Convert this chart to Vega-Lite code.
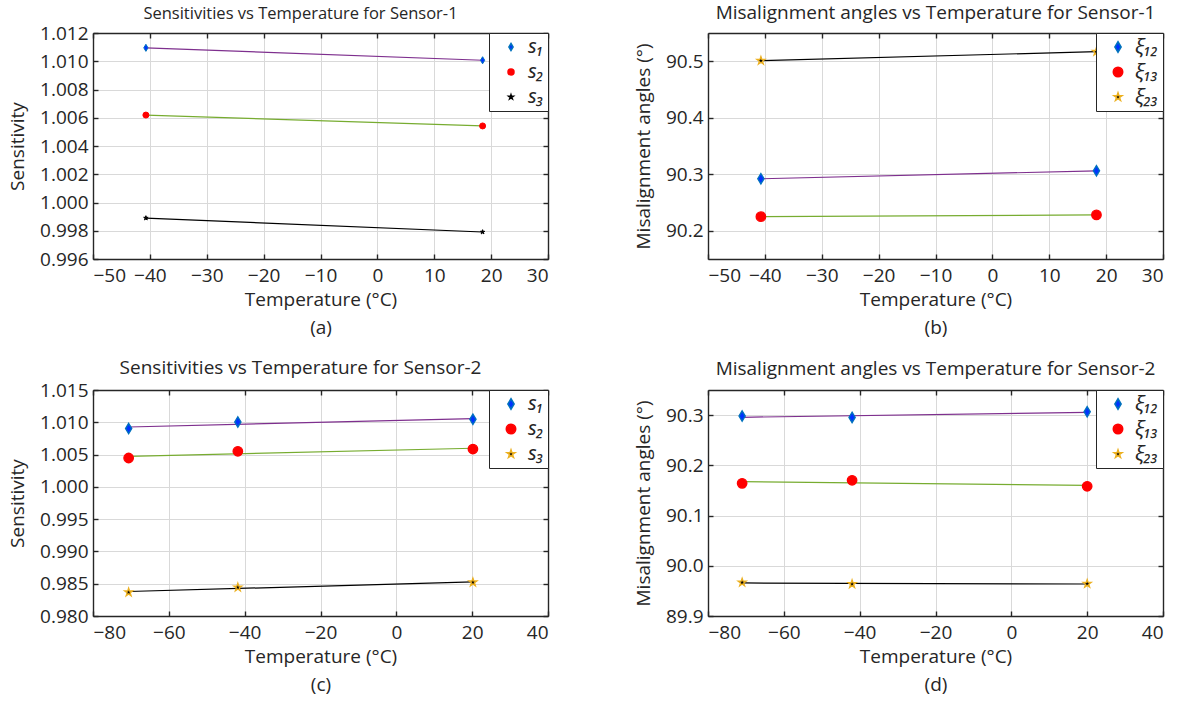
{
  "$schema": "https://vega.github.io/schema/vega-lite/v6.json",
  "padding": {"left": 8, "top": 4, "right": 5, "bottom": 5},
  "background": "white",
  "config": {
    "font": "Open Sans",
    "view": {"stroke": null},
    "axis": {
      "labelFont": "Open Sans", "labelFontSize": 19, "labelColor": "#262626",
      "titleFont": "Open Sans", "titleFontSize": 19, "titleFontWeight": "normal", "titleColor": "#262626",
      "domainColor": "#262626", "domainWidth": 1.4,
      "tickColor": "#262626", "tickWidth": 1.4, "tickSize": -5,
      "gridColor": "#d9d9d9", "gridWidth": 1
    },
    "axisX": {"labelPadding": 12, "titlePadding": 5, "titleLineHeight": 28},
    "axisY": {"labelPadding": 10, "titlePadding": 12},
    "title": {"font": "Open Sans", "fontSize": 19, "fontWeight": "normal", "color": "#262626"},
    "legend": {
      "orient": "top-right", "offset": 0, "title": null,
      "strokeColor": "#262626", "fillColor": "white", "padding": 4,
      "labelFont": "Noto Sans", "labelFontSize": 20, "labelFontStyle": "italic", "labelColor": "#262626",
      "rowPadding": 5, "symbolOffset": 8, "labelOffset": 7
    }
  },
  "datasets": {
    "a": [
      {"t": -40.7, "v": 1.01095, "s": "s₁"}, {"t": 18.5, "v": 1.01007, "s": "s₁"},
      {"t": -40.7, "v": 1.00619, "s": "s₂"}, {"t": 18.5, "v": 1.00542, "s": "s₂"},
      {"t": -40.7, "v": 0.99890, "s": "s₃"}, {"t": 18.5, "v": 0.99791, "s": "s₃"}
    ],
    "b": [
      {"t": -40.7, "v": 90.292, "s": "ξ₁₂"}, {"t": 18.3, "v": 90.306, "s": "ξ₁₂"},
      {"t": -40.7, "v": 90.225, "s": "ξ₁₃"}, {"t": 18.3, "v": 90.228, "s": "ξ₁₃"},
      {"t": -40.7, "v": 90.501, "s": "ξ₂₃"}, {"t": 18.3, "v": 90.517, "s": "ξ₂₃"}
    ],
    "c": [
      {"t": -70.6, "v": 1.00902, "s": "s₁"}, {"t": -41.8, "v": 1.01005, "s": "s₁"}, {"t": 20.2, "v": 1.01046, "s": "s₁"},
      {"t": -70.6, "v": 1.00447, "s": "s₂"}, {"t": -41.8, "v": 1.00551, "s": "s₂"}, {"t": 20.2, "v": 1.00586, "s": "s₂"},
      {"t": -70.6, "v": 0.98367, "s": "s₃"}, {"t": -41.8, "v": 0.98444, "s": "s₃"}, {"t": 20.2, "v": 0.98522, "s": "s₃"}
    ],
    "d": [
      {"t": -71.0, "v": 90.2980, "s": "ξ₁₂"}, {"t": -42.0, "v": 90.2954, "s": "ξ₁₂"}, {"t": 20.0, "v": 90.3066, "s": "ξ₁₂"},
      {"t": -71.0, "v": 90.1642, "s": "ξ₁₃"}, {"t": -42.0, "v": 90.1702, "s": "ξ₁₃"}, {"t": 20.0, "v": 90.1583, "s": "ξ₁₃"},
      {"t": -71.0, "v": 89.9668, "s": "ξ₂₃"}, {"t": -42.0, "v": 89.9636, "s": "ξ₂₃"}, {"t": 20.0, "v": 89.9642, "s": "ξ₂₃"}
    ]
  },
  "columns": 2,
  "spacing": {"row": 131, "column": 160},
  "bounds": "flush",
  "concat": [
    {
      "width": 455, "height": 226,
      "title": {"text": "Sensitivities vs Temperature for Sensor-1", "offset": 2, "fontSize": 16.5, "dx": -20},
      "data": {"name": "a"},
      "layer": [
        {
          "transform": [{"filter": {"field": "s", "equal": "s₁"}}, {"regression": "v", "on": "t"}],
          "mark": {"type": "line", "strokeWidth": 1.2, "color": "#7E2F8E"},
          "encoding": {
            "x": {"field": "t", "type": "quantitative", "scale": {"domain": [-50, 30], "nice": false, "zero": false},
                  "axis": {"orient": "bottom", "values": [-50, -40, -30, -20, -10, 0, 10, 20, 30], "grid": true, "title": ["Temperature (°C)", "(a)"]}},
            "y": {"field": "v", "type": "quantitative", "scale": {"domain": [0.996, 1.012], "nice": false, "zero": false},
                  "axis": {"orient": "left", "values": [0.996, 0.998, 1.0, 1.002, 1.004, 1.006, 1.008, 1.01, 1.012], "format": ".3f", "grid": true, "title": "Sensitivity"}}
          }
        },
        {
          "transform": [{"filter": {"field": "s", "equal": "s₂"}}, {"regression": "v", "on": "t"}],
          "mark": {"type": "line", "strokeWidth": 1.2, "color": "#77AC30"},
          "encoding": {"x": {"field": "t", "type": "quantitative", "axis": null}, "y": {"field": "v", "type": "quantitative", "axis": null}}
        },
        {
          "transform": [{"filter": {"field": "s", "equal": "s₃"}}, {"regression": "v", "on": "t"}],
          "mark": {"type": "line", "strokeWidth": 1.2, "color": "#000000"},
          "encoding": {"x": {"field": "t", "type": "quantitative", "axis": null}, "y": {"field": "v", "type": "quantitative", "axis": null}}
        },
        {
          "mark": {"type": "point", "filled": true, "opacity": 1, "strokeWidth": 1},
          "encoding": {
            "x": {"field": "t", "type": "quantitative", "axis": {"orient": "top", "values": [-50, -40, -30, -20, -10, 0, 10, 20, 30], "labels": false, "grid": false, "title": null}},
            "y": {"field": "v", "type": "quantitative", "axis": {"orient": "right", "values": [0.996, 0.998, 1.0, 1.002, 1.004, 1.006, 1.008, 1.01, 1.012], "labels": false, "grid": false, "title": null}},
            "fill": {"field": "s", "type": "nominal", "scale": {"domain": ["s₁", "s₂", "s₃"], "range": ["#0033ff", "#ff0000", "#000000"]}},
            "stroke": {"field": "s", "type": "nominal", "scale": {"domain": ["s₁", "s₂", "s₃"], "range": ["#0072BD", "#ff0000", "#000000"]}},
            "shape": {"field": "s", "type": "nominal", "scale": {"domain": ["s₁", "s₂", "s₃"], "range": ["M0,-1L0.6,0L0,1L-0.6,0Z", "circle", "M0,-1L0.2245,-0.309L0.951,-0.309L0.363,0.118L0.588,0.809L0,0.382L-0.588,0.809L-0.363,0.118L-0.951,-0.309L-0.2245,-0.309Z"]}},
            "size": {"field": "s", "type": "nominal", "scale": {"domain": ["s₁", "s₂", "s₃"], "range": [50, 22, 75]}}
          }
        }
      ],
      "resolve": {"axis": {"x": "independent", "y": "independent"}}
    },
    {
      "width": 455, "height": 226,
      "title": {"text": "Misalignment angles vs Temperature for Sensor-1", "offset": 9},
      "data": {"name": "b"},
      "layer": [
        {
          "transform": [{"filter": {"field": "s", "equal": "ξ₁₂"}}, {"regression": "v", "on": "t"}],
          "mark": {"type": "line", "strokeWidth": 1.2, "color": "#7E2F8E"},
          "encoding": {
            "x": {"field": "t", "type": "quantitative", "scale": {"domain": [-50, 30], "nice": false, "zero": false},
                  "axis": {"orient": "bottom", "values": [-50, -40, -30, -20, -10, 0, 10, 20, 30], "grid": true, "title": ["Temperature (°C)", "(b)"]}},
            "y": {"field": "v", "type": "quantitative", "scale": {"domain": [90.15, 90.55], "nice": false, "zero": false},
                  "axis": {"orient": "left", "values": [90.2, 90.3, 90.4, 90.5], "format": ".1f", "grid": true, "title": "Misalignment angles (°)"}}
          }
        },
        {
          "transform": [{"filter": {"field": "s", "equal": "ξ₁₃"}}, {"regression": "v", "on": "t"}],
          "mark": {"type": "line", "strokeWidth": 1.2, "color": "#77AC30"},
          "encoding": {"x": {"field": "t", "type": "quantitative", "axis": null}, "y": {"field": "v", "type": "quantitative", "axis": null}}
        },
        {
          "transform": [{"filter": {"field": "s", "equal": "ξ₂₃"}}, {"regression": "v", "on": "t"}],
          "mark": {"type": "line", "strokeWidth": 1.2, "color": "#000000"},
          "encoding": {"x": {"field": "t", "type": "quantitative", "axis": null}, "y": {"field": "v", "type": "quantitative", "axis": null}}
        },
        {
          "mark": {"type": "point", "filled": true, "opacity": 1, "strokeWidth": 1.3},
          "encoding": {
            "x": {"field": "t", "type": "quantitative", "axis": {"orient": "top", "values": [-50, -40, -30, -20, -10, 0, 10, 20, 30], "labels": false, "grid": false, "title": null}},
            "y": {"field": "v", "type": "quantitative", "axis": {"orient": "right", "values": [90.2, 90.3, 90.4, 90.5], "labels": false, "grid": false, "title": null}},
            "fill": {"field": "s", "type": "nominal", "scale": {"domain": ["ξ₁₂", "ξ₁₃", "ξ₂₃"], "range": ["#0033ff", "#ff0000", "#000000"]}},
            "stroke": {"field": "s", "type": "nominal", "scale": {"domain": ["ξ₁₂", "ξ₁₃", "ξ₂₃"], "range": ["#0072BD", "#ff0000", "#EDB120"]}},
            "shape": {"field": "s", "type": "nominal", "scale": {"domain": ["ξ₁₂", "ξ₁₃", "ξ₂₃"], "range": ["M0,-1L0.6,0L0,1L-0.6,0Z", "circle", "M0,-1L0.2245,-0.309L0.951,-0.309L0.363,0.118L0.588,0.809L0,0.382L-0.588,0.809L-0.363,0.118L-0.951,-0.309L-0.2245,-0.309Z"]}},
            "size": {"field": "s", "type": "nominal", "scale": {"domain": ["ξ₁₂", "ξ₁₃", "ξ₂₃"], "range": [110, 70, 180]}}
          }
        }
      ],
      "resolve": {"axis": {"x": "independent", "y": "independent"}}
    },
    {
      "width": 455, "height": 226,
      "title": {"text": "Sensitivities vs Temperature for Sensor-2", "offset": 3, "dx": -20},
      "data": {"name": "c"},
      "layer": [
        {
          "transform": [{"filter": {"field": "s", "equal": "s₁"}}, {"regression": "v", "on": "t"}],
          "mark": {"type": "line", "strokeWidth": 1.2, "color": "#7E2F8E"},
          "encoding": {
            "x": {"field": "t", "type": "quantitative", "scale": {"domain": [-80, 40], "nice": false, "zero": false},
                  "axis": {"orient": "bottom", "values": [-80, -60, -40, -20, 0, 20, 40], "grid": true, "title": ["Temperature (°C)", "(c)"]}},
            "y": {"field": "v", "type": "quantitative", "scale": {"domain": [0.98, 1.015], "nice": false, "zero": false},
                  "axis": {"orient": "left", "values": [0.98, 0.985, 0.99, 0.995, 1.0, 1.005, 1.01, 1.015], "format": ".3f", "grid": true, "title": "Sensitivity"}}
          }
        },
        {
          "transform": [{"filter": {"field": "s", "equal": "s₂"}}, {"regression": "v", "on": "t"}],
          "mark": {"type": "line", "strokeWidth": 1.2, "color": "#77AC30"},
          "encoding": {"x": {"field": "t", "type": "quantitative", "axis": null}, "y": {"field": "v", "type": "quantitative", "axis": null}}
        },
        {
          "transform": [{"filter": {"field": "s", "equal": "s₃"}}, {"regression": "v", "on": "t"}],
          "mark": {"type": "line", "strokeWidth": 1.2, "color": "#000000"},
          "encoding": {"x": {"field": "t", "type": "quantitative", "axis": null}, "y": {"field": "v", "type": "quantitative", "axis": null}}
        },
        {
          "mark": {"type": "point", "filled": true, "opacity": 1, "strokeWidth": 1.3},
          "encoding": {
            "x": {"field": "t", "type": "quantitative", "axis": {"orient": "top", "values": [-80, -60, -40, -20, 0, 20, 40], "labels": false, "grid": false, "title": null}},
            "y": {"field": "v", "type": "quantitative", "axis": {"orient": "right", "values": [0.98, 0.985, 0.99, 0.995, 1.0, 1.005, 1.01, 1.015], "labels": false, "grid": false, "title": null}},
            "fill": {"field": "s", "type": "nominal", "scale": {"domain": ["s₁", "s₂", "s₃"], "range": ["#0033ff", "#ff0000", "#000000"]}},
            "stroke": {"field": "s", "type": "nominal", "scale": {"domain": ["s₁", "s₂", "s₃"], "range": ["#0072BD", "#ff0000", "#EDB120"]}},
            "shape": {"field": "s", "type": "nominal", "scale": {"domain": ["s₁", "s₂", "s₃"], "range": ["M0,-1L0.6,0L0,1L-0.6,0Z", "circle", "M0,-1L0.2245,-0.309L0.951,-0.309L0.363,0.118L0.588,0.809L0,0.382L-0.588,0.809L-0.363,0.118L-0.951,-0.309L-0.2245,-0.309Z"]}},
            "size": {"field": "s", "type": "nominal", "scale": {"domain": ["s₁", "s₂", "s₃"], "range": [110, 70, 180]}}
          }
        }
      ],
      "resolve": {"axis": {"x": "independent", "y": "independent"}}
    },
    {
      "width": 455, "height": 226,
      "title": {"text": "Misalignment angles vs Temperature for Sensor-2", "offset": 10},
      "data": {"name": "d"},
      "layer": [
        {
          "transform": [{"filter": {"field": "s", "equal": "ξ₁₂"}}, {"regression": "v", "on": "t"}],
          "mark": {"type": "line", "strokeWidth": 1.2, "color": "#7E2F8E"},
          "encoding": {
            "x": {"field": "t", "type": "quantitative", "scale": {"domain": [-80, 40], "nice": false, "zero": false},
                  "axis": {"orient": "bottom", "values": [-80, -60, -40, -20, 0, 20, 40], "grid": true, "title": ["Temperature (°C)", "(d)"]}},
            "y": {"field": "v", "type": "quantitative", "scale": {"domain": [89.9, 90.35], "nice": false, "zero": false},
                  "axis": {"orient": "left", "values": [89.9, 90.0, 90.1, 90.2, 90.3], "format": ".1f", "grid": true, "title": "Misalignment angles (°)"}}
          }
        },
        {
          "transform": [{"filter": {"field": "s", "equal": "ξ₁₃"}}, {"regression": "v", "on": "t"}],
          "mark": {"type": "line", "strokeWidth": 1.2, "color": "#77AC30"},
          "encoding": {"x": {"field": "t", "type": "quantitative", "axis": null}, "y": {"field": "v", "type": "quantitative", "axis": null}}
        },
        {
          "transform": [{"filter": {"field": "s", "equal": "ξ₂₃"}}, {"regression": "v", "on": "t"}],
          "mark": {"type": "line", "strokeWidth": 1.2, "color": "#000000"},
          "encoding": {"x": {"field": "t", "type": "quantitative", "axis": null}, "y": {"field": "v", "type": "quantitative", "axis": null}}
        },
        {
          "mark": {"type": "point", "filled": true, "opacity": 1, "strokeWidth": 1.3},
          "encoding": {
            "x": {"field": "t", "type": "quantitative", "axis": {"orient": "top", "values": [-80, -60, -40, -20, 0, 20, 40], "labels": false, "grid": false, "title": null}},
            "y": {"field": "v", "type": "quantitative", "axis": {"orient": "right", "values": [89.9, 90.0, 90.1, 90.2, 90.3], "labels": false, "grid": false, "title": null}},
            "fill": {"field": "s", "type": "nominal", "scale": {"domain": ["ξ₁₂", "ξ₁₃", "ξ₂₃"], "range": ["#0033ff", "#ff0000", "#000000"]}},
            "stroke": {"field": "s", "type": "nominal", "scale": {"domain": ["ξ₁₂", "ξ₁₃", "ξ₂₃"], "range": ["#0072BD", "#ff0000", "#EDB120"]}},
            "shape": {"field": "s", "type": "nominal", "scale": {"domain": ["ξ₁₂", "ξ₁₃", "ξ₂₃"], "range": ["M0,-1L0.6,0L0,1L-0.6,0Z", "circle", "M0,-1L0.2245,-0.309L0.951,-0.309L0.363,0.118L0.588,0.809L0,0.382L-0.588,0.809L-0.363,0.118L-0.951,-0.309L-0.2245,-0.309Z"]}},
            "size": {"field": "s", "type": "nominal", "scale": {"domain": ["ξ₁₂", "ξ₁₃", "ξ₂₃"], "range": [110, 70, 180]}}
          }
        }
      ],
      "resolve": {"axis": {"x": "independent", "y": "independent"}}
    }
  ],
  "resolve": {"scale": {"fill": "independent", "stroke": "independent", "shape": "independent", "size": "independent"}, "legend": {"fill": "independent", "stroke": "independent", "shape": "independent", "size": "independent"}}
}
